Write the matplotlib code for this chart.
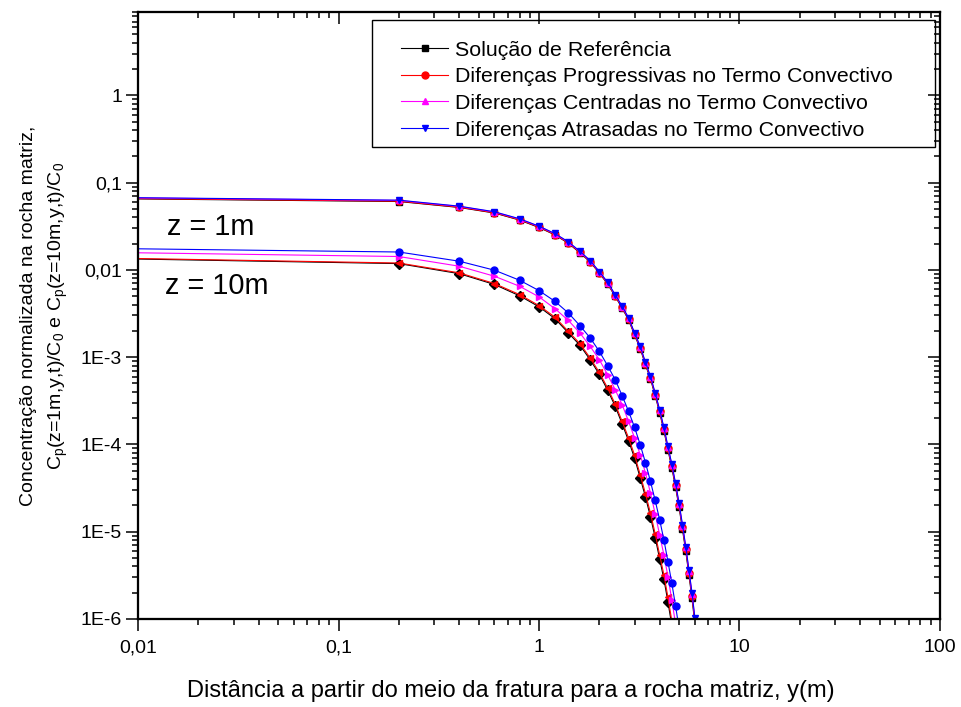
import numpy as np
import matplotlib
matplotlib.use("Agg")
import matplotlib.pyplot as plt
from matplotlib.patches import Rectangle

plt.rcParams['font.family'] = ['Liberation Sans', 'DejaVu Sans']
plt.rcParams['mathtext.fontset'] = 'custom'
plt.rcParams['mathtext.rm'] = 'Liberation Sans'
plt.rcParams['mathtext.it'] = 'Liberation Sans'
plt.rcParams['mathtext.default'] = 'regular'

# distance y (m); first point sits on the left edge of the axis
y_pos = [0.01, 0.2, 0.4, 0.6, 0.8, 1.0, 1.2, 1.4, 1.6, 1.8, 2.0, 2.2, 2.4, 2.6, 2.8, 3.0,
         3.2, 3.4, 3.6, 3.8, 4.0, 4.2, 4.4, 4.6, 4.8, 5.0, 5.2, 5.4, 5.6, 5.8, 6.0]

# z = 1 m
z1_ref = [0.0650, 0.0607, 0.0519, 0.0448, 0.0372, 0.0306, 0.0252, 0.0202, 0.0157, 0.01232,
          0.00918, 0.00690, 0.00497, 0.00364, 0.00267, 0.00179, 0.00125, 8.18e-4, 5.62e-4,
          3.62e-4, 2.31e-4, 1.44e-4, 8.65e-5, 5.40e-5, 3.25e-5, 1.90e-5, 1.06e-5, 5.95e-6,
          3.18e-6, 1.72e-6, 8.7e-7]
z1_prog = [0.0655, 0.0612, 0.0523, 0.0451, 0.0375, 0.0309, 0.0254, 0.0204, 0.0159, 0.01245,
           0.00930, 0.00700, 0.00505, 0.00371, 0.00273, 0.00183, 0.00128, 8.40e-4, 5.78e-4,
           3.73e-4, 2.39e-4, 1.49e-4, 9.0e-5, 5.63e-5, 3.40e-5, 2.0e-5, 1.12e-5, 6.3e-6,
           3.38e-6, 1.84e-6, 9.3e-7]
z1_cent = [0.0667, 0.0625, 0.0533, 0.0460, 0.0382, 0.0315, 0.0259, 0.0208, 0.01622, 0.01268,
           0.00948, 0.00714, 0.00516, 0.00379, 0.00279, 0.00187, 0.00131, 8.60e-4, 5.93e-4,
           3.83e-4, 2.46e-4, 1.54e-4, 9.3e-5, 5.84e-5, 3.54e-5, 2.08e-5, 1.17e-5, 6.6e-6,
           3.56e-6, 1.95e-6, 9.9e-7]
z1_atr = [0.0671, 0.0629, 0.0537, 0.0463, 0.0385, 0.0317, 0.0261, 0.0210, 0.01636, 0.0128,
          0.00957, 0.00721, 0.00521, 0.00383, 0.00282, 0.001895, 0.00133, 8.72e-4, 6.02e-4,
          3.89e-4, 2.50e-4, 1.566e-4, 9.48e-5, 5.95e-5, 3.61e-5, 2.13e-5, 1.20e-5, 6.75e-6,
          3.65e-6, 2.0e-6, 1.02e-6]

# z = 10 m (curves leave the axis before y = 6)
z10_ref = [0.01330, 0.01180, 0.00905, 0.00680, 0.00505, 0.00378, 0.00277, 0.00190, 0.00137,
           9.35e-4, 6.36e-4, 4.20e-4, 2.74e-4, 1.72e-4, 1.10e-4, 6.95e-5, 4.13e-5, 2.49e-5,
           1.48e-5, 8.55e-6, 4.88e-6, 2.86e-6, 1.57e-6, 8.4e-7]
z10_prog = [0.01349, 0.01198, 0.00925, 0.00697, 0.00521, 0.00390, 0.002877, 0.001977, 0.001429,
            9.79e-4, 6.69e-4, 4.43e-4, 2.90e-4, 1.835e-4, 1.183e-4, 7.51e-5, 4.49e-5, 2.72e-5,
            1.63e-5, 9.45e-6, 5.42e-6, 3.2e-6, 1.77e-6, 9.5e-7]
z10_cent = [0.01569, 0.01422, 0.01101, 0.00845, 0.00649, 0.00491, 0.003601, 0.002645, 0.001895,
            0.00133, 9.36e-4, 6.30e-4, 4.24e-4, 2.85e-4, 1.835e-4, 1.183e-4, 7.61e-5, 4.69e-5,
            2.77e-5, 1.60e-5, 9.2e-6, 5.42e-6, 3.06e-6, 1.65e-6, 8.8e-7]
z10_atr = [0.01743, 0.01602, 0.01257, 0.00991, 0.00761, 0.00579, 0.00437, 0.003215, 0.002298,
           0.001662, 0.001166, 7.99e-4, 5.52e-4, 3.62e-4, 2.39e-4, 1.566e-4, 9.92e-5, 6.16e-5,
           3.76e-5, 2.28e-5, 1.37e-5, 8.06e-6, 4.55e-6, 2.57e-6, 1.42e-6, 7.8e-7]

labels = ["Solução de Referência",
          "Diferenças Progressivas no Termo Convectivo",
          "Diferenças Centradas no Termo Convectivo",
          "Diferenças Atrasadas no Termo Convectivo"]
colors = ['black', 'red', '#ff00ff', 'blue']

fig = plt.figure(figsize=(9.62, 7.07), dpi=100)
ax = fig.add_axes([0.1435, 0.1245, 0.8335, 0.8585])

z1 = [z1_ref, z1_prog, z1_cent, z1_atr]
z10 = [z10_ref, z10_prog, z10_cent, z10_atr]
mk1 = ['s', 'o', '^', 'v']
mk10 = ['D', '<', '>', 'o']
for i in range(4):
    vals = z1[i]
    ax.plot(y_pos[:len(vals)], vals, color=colors[i], lw=0.8, marker=mk1[i],
            ms=5, markevery=slice(1, None), label=labels[i])
for i in range(4):
    vals = z10[i]
    ax.plot(y_pos[:len(vals)], vals, color=colors[i], lw=0.8, marker=mk10[i],
            ms=5, markevery=slice(1, None))

ax.set_xscale('log')
ax.set_yscale('log')
ax.set_xlim(0.01, 100)
ax.set_ylim(1e-6, 9)

ax.set_xticks([0.01, 0.1, 1, 10, 100])
ax.set_xticklabels(['0,01', '0,1', '1', '10', '100'])
ax.set_yticks([1e-6, 1e-5, 1e-4, 1e-3, 0.01, 0.1, 1])
ax.set_yticklabels(['1E-6', '1E-5', '1E-4', '1E-3', '0,01', '0,1', '1'])
ax.xaxis.set_minor_locator(matplotlib.ticker.LogLocator(subs=np.arange(2, 10)))
ax.yaxis.set_minor_locator(matplotlib.ticker.LogLocator(subs=np.arange(2, 10)))
ax.xaxis.set_minor_formatter(matplotlib.ticker.NullFormatter())
ax.yaxis.set_minor_formatter(matplotlib.ticker.NullFormatter())
ax.tick_params(which='major', direction='out', length=8.5, width=1.1, labelsize=14)
ax.tick_params(axis='x', which='major', pad=6)
ax.tick_params(axis='y', which='major', pad=3)
ax.tick_params(which='minor', direction='out', length=4.5, width=1.1)
for s in ax.spines.values():
    s.set_linewidth(1.5)

# mirrored ticks on top and right, pointing inward
axr = ax.twinx()
axr.set_yscale('log')
axr.set_ylim(ax.get_ylim())
axr.yaxis.set_minor_locator(matplotlib.ticker.LogLocator(subs=np.arange(2, 10)))
axr.tick_params(which='major', direction='in', length=8.5, width=1.1, labelright=False)
axr.tick_params(which='minor', direction='in', length=4.5, width=1.1, labelright=False)
axt = ax.twiny()
axt.set_xscale('log')
axt.set_xlim(ax.get_xlim())
axt.xaxis.set_minor_locator(matplotlib.ticker.LogLocator(subs=np.arange(2, 10)))
axt.tick_params(which='major', direction='in', length=8.5, width=1.1, labeltop=False)
axt.tick_params(which='minor', direction='in', length=4.5, width=1.1, labeltop=False)
for a in (axr, axt):
    for s in a.spines.values():
        s.set_linewidth(1.5)

ax.set_xlabel('Distância a partir do meio da fratura para a rocha matriz, y(m)',
              fontsize=17, labelpad=18)
ax.xaxis.set_label_coords(0.465, -0.101)
ax.set_ylabel('Concentração normalizada na rocha matriz,\n'
              '$C_p$(z=1m,y,t)/$C_0$ e $C_p$(z=10m,y,t)/$C_0$',
              fontsize=14, labelpad=8, linespacing=1.6)

ax.text(0.036, 0.633, 'z = 1m', transform=ax.transAxes, fontsize=20.8, va='baseline')
ax.text(0.034, 0.535, 'z = 10m', transform=ax.transAxes, fontsize=20.8, va='baseline')

leg = ax.legend(loc='upper left', bbox_to_anchor=(0.328, 0.953), frameon=False,
                fontsize=15.4, borderpad=0, borderaxespad=0, handlelength=2.2,
                handletextpad=0.3, labelspacing=0.36)
ax.add_patch(Rectangle((0.2918, 0.7776), 0.702, 0.2092, transform=ax.transAxes,
                       fill=False, edgecolor='black', lw=1.0, zorder=5))

fig.savefig('out.png', dpi=100)
